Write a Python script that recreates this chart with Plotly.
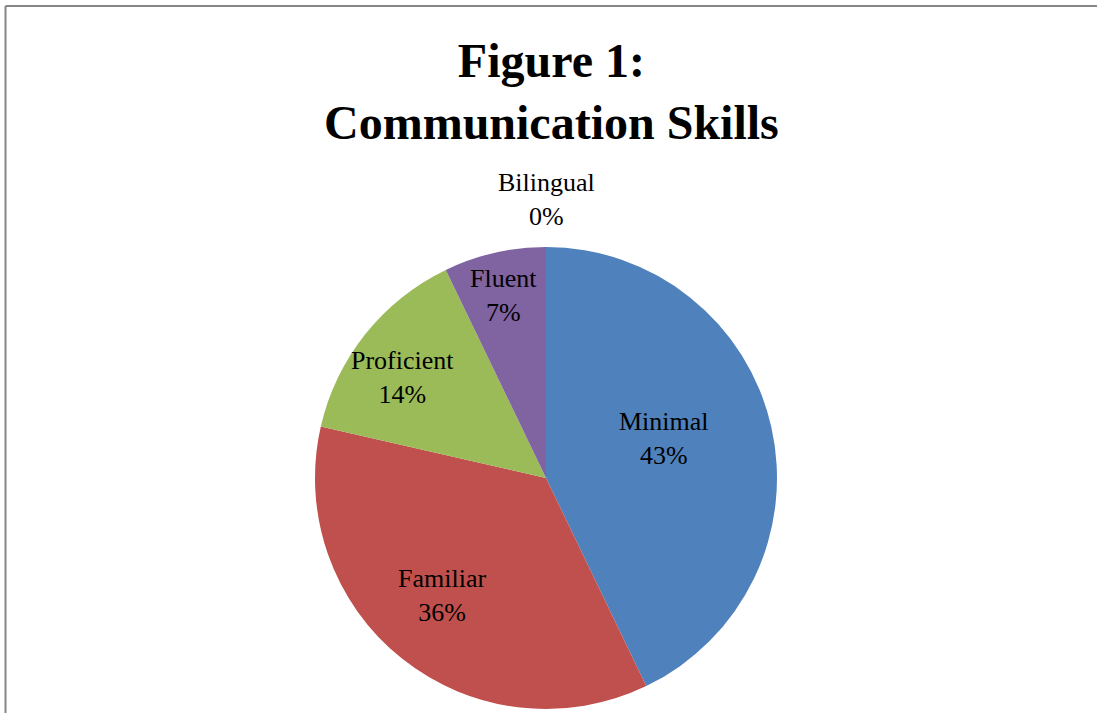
import math
import plotly.graph_objects as go

# Survey results: number of respondents at each communication level
categories = ["Minimal", "Familiar", "Proficient", "Fluent", "Bilingual"]
counts = [6, 5, 2, 1, 0]
colors = ["#4F81BD", "#C0504D", "#9BBB59", "#8064A2", "#F79646"]

# Label placement: fraction of the radius and small angular nudge (degrees)
label_radius = [0.54, 0.68, 0.76, 0.81, 1.205]
label_nudge = [-5.6, 2.9, -3.6, -0.4, 0.0]

W, H = 1097, 713
CX, CY, R = 546, 478, 231  # pie centre and radius in pixels

SERIF = "Liberation Serif, Times New Roman, serif"

fig = go.Figure(
    go.Pie(
        labels=categories,
        values=counts,
        sort=False,
        direction="clockwise",
        rotation=0,
        marker=dict(colors=colors, line=dict(width=0)),
        textinfo="none",
        hoverinfo="label+percent",
        domain=dict(x=[(CX - R) / W, (CX + R) / W],
                    y=[1 - (CY + R) / H, 1 - (CY - R) / H]),
        showlegend=False,
    )
)

# Data labels at each slice's middle angle
total = sum(counts)
start = 0.0
annotations = []
for name, v, rf, nudge in zip(categories, counts, label_radius, label_nudge):
    span = 360.0 * v / total
    mid = math.radians(start + span / 2 + nudge)
    start += span
    px = CX + rf * R * math.sin(mid)
    py = CY - rf * R * math.cos(mid)
    pct = round(100 * v / total)
    annotations.append(dict(
        x=px / W, y=1 - py / H, xref="paper", yref="paper",
        xanchor="center", yanchor="middle",
        text=f"{name}<br>{pct}%", showarrow=False, align="center",
        font=dict(family=SERIF, size=26, color="#000000"),
    ))

# Chart title, two bold lines above the pie
annotations.append(dict(
    x=0.503, y=1 - 32 / H, xref="paper", yref="paper",
    xanchor="center", yanchor="top",
    text="<b>Figure 1:<br>Communication Skills</b>", showarrow=False,
    align="center",
    font=dict(family=SERIF, size=48, color="#000000"),
))

# Chart frame edges along the top and left
frame = [
    dict(type="line", xref="paper", yref="paper",
         x0=5.5 / W, y0=1 - 6 / H, x1=1.0, y1=1 - 6 / H,
         line=dict(color="#868686", width=2)),
    dict(type="line", xref="paper", yref="paper",
         x0=5.5 / W, y0=1 - 6 / H, x1=5.5 / W, y1=0.0,
         line=dict(color="#868686", width=2)),
]

fig.update_layout(
    width=W, height=H,
    margin=dict(l=0, r=0, t=0, b=0),
    paper_bgcolor="white", plot_bgcolor="white",
    annotations=annotations,
    shapes=frame,
)

fig.write_html("out.html")
